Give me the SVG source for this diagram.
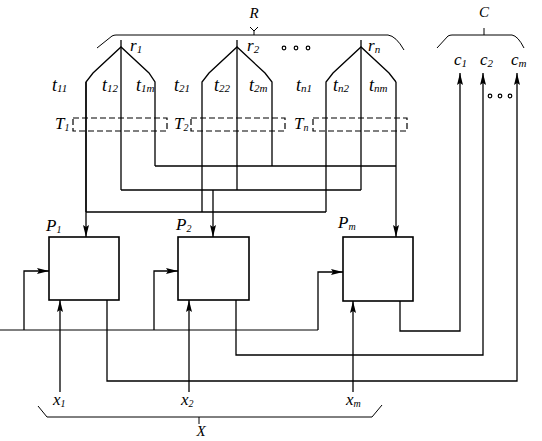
<svg xmlns="http://www.w3.org/2000/svg" width="542" height="441" viewBox="0 0 542 441">
<defs>
<style>
.ln{stroke:#000;stroke-width:1.3;fill:none;stroke-linejoin:miter}
.th{stroke:#000;stroke-width:1;fill:none}
.box{stroke:#000;stroke-width:1.6;fill:#fff}
.dash{stroke:#000;stroke-width:1.2;fill:none;stroke-dasharray:6,3}
.lbl{font-family:"Liberation Serif",serif;font-style:italic;font-size:15px;fill:#000}
.big{font-size:18px}
.mid{font-size:17px}
.sub{font-size:10px}
.sb{font-size:11px}
.dot{stroke:#000;stroke-width:1.2;fill:#fff}
</style>
<marker id="ar" markerUnits="userSpaceOnUse" markerWidth="13" markerHeight="7" refX="12" refY="3" orient="auto">
<path d="M0,0 L12,3 L0,6 L2,3 z" fill="#000"/>
</marker>
</defs>
<rect width="542" height="441" fill="#fff"/>

<g id="braces">
<path class="th" d="M97,48 L112,36 Q114,35 116,35 H388 Q396,36 404,50"/>
<path class="th" d="M254,35 V31 M250,27 L254,31 L258,27"/>
<path class="th" d="M437,48 L448,36 Q450,35 452,35 H512 Q518,36 524,48"/>
<path class="th" d="M484,35 V28"/>
<path class="th" d="M38,406 L47,417 H372 L382,405"/>
<path class="th" d="M199,417 V424"/>
<text class="lbl" x="254" y="18" text-anchor="middle">R</text>
<text class="lbl" x="484" y="17" text-anchor="middle">C</text>
<text class="lbl" x="201" y="436" text-anchor="middle">X</text>
</g>

<g id="tree1">
<path class="ln" d="M86,212 V82 L93,73 L121,47 L149,73 L155,82 V166"/>
<path class="ln" d="M121,40 V190"/>
<text class="lbl mid" x="130" y="51">r<tspan class="sb" dy="2">1</tspan></text>
<text class="lbl big" x="52" y="91">t<tspan class="sb" dy="1">11</tspan></text>
<text class="lbl big" x="102" y="91">t<tspan class="sb" dy="1">12</tspan></text>
<text class="lbl big" x="136" y="91">t<tspan class="sb" dy="1">1m</tspan></text>
<rect class="dash" x="73" y="118" width="94" height="13"/>
<text class="lbl mid" x="55" y="129">T<tspan class="sub" dy="2">1</tspan></text>
</g>

<g id="tree2">
<path class="ln" d="M202,212 V82 L209,73 L237,47 L265,73 L272,82 V166"/>
<path class="ln" d="M237,40 V190"/>
<text class="lbl mid" x="247" y="51">r<tspan class="sb" dy="2">2</tspan></text>
<text class="lbl big" x="174" y="91">t<tspan class="sb" dy="1">21</tspan></text>
<text class="lbl big" x="214" y="91">t<tspan class="sb" dy="1">22</tspan></text>
<text class="lbl big" x="249" y="91">t<tspan class="sb" dy="1">2m</tspan></text>
<rect class="dash" x="191" y="118" width="94" height="13"/>
<text class="lbl mid" x="174" y="129">T<tspan class="sub" dy="2">2</tspan></text>
</g>

<g id="ellipsis-r">
<circle class="dot" cx="284" cy="48" r="1.8"/>
<circle class="dot" cx="296" cy="48" r="1.8"/>
<circle class="dot" cx="308" cy="48" r="1.8"/>
</g>

<g id="treen">
<path class="ln" d="M326,212 V82 L333,73 L361,47 L389,73 L396,82"/>
<path class="ln" d="M361,40 V190"/>
<text class="lbl mid" x="368" y="51">r<tspan class="sb" dy="2">n</tspan></text>
<text class="lbl big" x="296" y="91">t<tspan class="sb" dy="1">n1</tspan></text>
<text class="lbl big" x="333" y="91">t<tspan class="sb" dy="1">n2</tspan></text>
<text class="lbl big" x="369" y="91">t<tspan class="sb" dy="1">nm</tspan></text>
<rect class="dash" x="313" y="118" width="94" height="13"/>
<text class="lbl mid" x="294" y="129">T<tspan class="sub" dy="2">n</tspan></text>
</g>

<g id="P1">
<rect class="box" x="49" y="237" width="70" height="63"/>
<text class="lbl mid" x="46" y="231">P<tspan class="sub" dy="2">1</tspan></text>
</g>
<g id="P2">
<rect class="box" x="178" y="237" width="71" height="63"/>
<text class="lbl mid" x="176" y="230">P<tspan class="sub" dy="2">2</tspan></text>
</g>
<g id="Pm">
<rect class="box" x="343" y="237" width="70" height="64"/>
<text class="lbl mid" x="338" y="228">P<tspan class="sub" dy="2">m</tspan></text>
</g>

<g id="outputs-labels">
<text class="lbl mid" x="454" y="65">c<tspan class="sb" dy="2">1</tspan></text>
<text class="lbl mid" x="480" y="65">c<tspan class="sb" dy="2">2</tspan></text>
<text class="lbl mid" x="511" y="65">c<tspan class="sb" dy="2">m</tspan></text>
<circle class="dot" cx="490" cy="96" r="1.8"/>
<circle class="dot" cx="500" cy="96" r="1.8"/>
<circle class="dot" cx="510" cy="96" r="1.8"/>
</g>

<g id="inputs-labels">
<text class="lbl mid" x="53" y="405">x<tspan class="sub" dy="2">1</tspan></text>
<text class="lbl mid" x="181" y="405">x<tspan class="sub" dy="2">2</tspan></text>
<text class="lbl mid" x="346" y="405">x<tspan class="sub" dy="2">m</tspan></text>
</g>

<g id="connectors">
<path class="ln" d="M86,82 V237" marker-end="url(#ar)"/>
<path class="ln" d="M396,82 V237" marker-end="url(#ar)"/>
<path class="ln" d="M86,212 H326"/>
<path class="ln" d="M121,190 H361"/>
<path class="ln" d="M213,190 V237" marker-end="url(#ar)"/>
<path class="ln" d="M155,166 H396"/>
<path class="ln" d="M107,300 V381 H517 V73" marker-end="url(#ar)"/>
<path class="ln" d="M236,300 V355 H483 V73" marker-end="url(#ar)"/>
<path class="ln" d="M400,301 V331 H460 V73" marker-end="url(#ar)"/>
<path class="th" d="M0,330 H318"/>
<path class="ln" d="M24,330 V271 H49" marker-end="url(#ar)"/>
<path class="ln" d="M154,330 V271 H178" marker-end="url(#ar)"/>
<path class="ln" d="M318,330 V272 H343" marker-end="url(#ar)"/>
<path class="ln" d="M60,392 V300" marker-end="url(#ar)"/>
<path class="ln" d="M189,392 V300" marker-end="url(#ar)"/>
<path class="ln" d="M353,392 V301" marker-end="url(#ar)"/>
</g>
</svg>
